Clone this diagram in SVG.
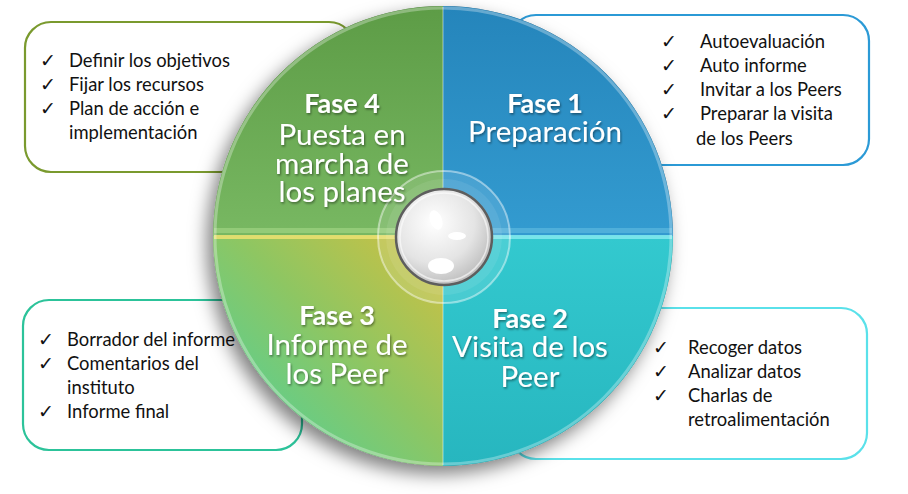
<svg xmlns="http://www.w3.org/2000/svg" width="908" height="494" viewBox="0 0 908 494">
<style>
.item{font-family:Lato,"Open Sans","Liberation Sans",sans-serif;font-size:18.4px;fill:#111}
.chk{font-family:"DejaVu Sans",sans-serif;font-size:19px;fill:#111}
.ph{font-family:Lato,"Open Sans","Liberation Sans",sans-serif;fill:#fff;text-anchor:middle;filter:url(#ts)}
.b{font-weight:bold;font-size:27px}
.l{font-size:29.5px}
.box{fill:#fff;stroke-width:2.2}
</style>
<defs>
<filter id="sh" x="-20%" y="-20%" width="140%" height="140%"><feDropShadow dx="-6" dy="8" stdDeviation="9" flood-color="#000" flood-opacity="0.5"/></filter>
<filter id="ts" x="-10%" y="-20%" width="120%" height="140%"><feDropShadow dx="1" dy="1.5" stdDeviation="1" flood-color="#000" flood-opacity="0.45"/></filter>
<linearGradient id="g4" x1="0" y1="0" x2="0" y2="1"><stop offset="0" stop-color="#5d9c46"/><stop offset="1" stop-color="#78b862"/></linearGradient>
<linearGradient id="g1" x1="0" y1="0" x2="0" y2="1"><stop offset="0" stop-color="#2585bb"/><stop offset="1" stop-color="#339bd0"/></linearGradient>
<linearGradient id="g2" x1="0" y1="0" x2="0" y2="1"><stop offset="0" stop-color="#33c9cf"/><stop offset="1" stop-color="#27b6bf"/></linearGradient>
<linearGradient id="g3" x1="1" y1="0" x2="0" y2="1"><stop offset="0" stop-color="#d2c040"/><stop offset="0.45" stop-color="#8ec662"/><stop offset="1" stop-color="#44d3a6"/></linearGradient>
<radialGradient id="kn" cx="0.4" cy="0.35" r="0.7"><stop offset="0" stop-color="#ffffff"/><stop offset="0.6" stop-color="#e4e4e4"/><stop offset="1" stop-color="#b8b8b8"/></radialGradient>
</defs>

<g id="box-fase4"><rect class="box" x="25" y="22" width="330" height="150" rx="26" stroke="#7a9a2e"/>
<text class="chk" x="40" y="67">✓</text><text class="item" x="69" y="67">Definir los objetivos</text>
<text class="chk" x="40" y="91">✓</text><text class="item" x="69" y="91">Fijar los recursos</text>
<text class="chk" x="40" y="115">✓</text><text class="item" x="69" y="115">Plan de acción e</text>
<text class="item" x="69" y="139">implementación</text></g>

<g id="box-fase1"><rect class="box" x="510" y="15" width="359" height="150" rx="26" stroke="#2b9ad6"/>
<text class="chk" x="661" y="48">✓</text><text class="item" x="700" y="48">Autoevaluación</text>
<text class="chk" x="661" y="72">✓</text><text class="item" x="700" y="72">Auto informe</text>
<text class="chk" x="661" y="96">✓</text><text class="item" x="700" y="96">Invitar a los Peers</text>
<text class="chk" x="661" y="120">✓</text><text class="item" x="700" y="120">Preparar la visita</text>
<text class="item" x="696" y="145">de los Peers</text></g>

<g id="box-fase3"><rect class="box" x="23" y="300" width="279" height="150" rx="26" stroke="#2cc39a"/>
<text class="chk" x="38" y="346">✓</text><text class="item" x="67" y="346">Borrador del informe</text>
<text class="chk" x="38" y="370">✓</text><text class="item" x="67" y="370">Comentarios del</text>
<text class="item" x="67" y="394">instituto</text>
<text class="chk" x="38" y="418">✓</text><text class="item" x="67" y="418">Informe final</text></g>

<g id="box-fase2"><rect class="box" x="510" y="308" width="357" height="151" rx="26" stroke="#5ae1ea"/>
<text class="chk" x="653" y="354">✓</text><text class="item" x="688" y="354">Recoger datos</text>
<text class="chk" x="653" y="378">✓</text><text class="item" x="688" y="378">Analizar datos</text>
<text class="chk" x="653" y="402">✓</text><text class="item" x="688" y="402">Charlas de</text>
<text class="item" x="688" y="426">retroalimentación</text></g>

<g id="wheel">
<circle cx="443" cy="236" r="230" fill="#888" filter="url(#sh)"/>
<path d="M443 236 L443 6 A230 230 0 0 0 213 236 Z" fill="url(#g4)"/>
<path d="M443 236 L673 236 A230 230 0 0 0 443 6 Z" fill="url(#g1)"/>
<path d="M443 236 L443 466 A230 230 0 0 0 673 236 Z" fill="url(#g2)"/>
<path d="M443 236 L213 236 A230 230 0 0 0 443 466 Z" fill="url(#g3)"/>
<rect x="214" y="228" width="229" height="5" fill="#9ad07e" opacity="0.8"/>
<rect x="443" y="228" width="229" height="5" fill="#56b4dc" opacity="0.8"/>
<rect x="214" y="235" width="229" height="4" fill="#e8e070" opacity="0.9"/>
<rect x="443" y="235" width="229" height="4" fill="#7ee8ec" opacity="0.9"/>
<line x1="443" y1="7" x2="443" y2="465" stroke="#ffffff" stroke-opacity="0.25" stroke-width="2"/>
<circle cx="443" cy="236" r="228" fill="none" stroke="#ffffff" stroke-opacity="0.3" stroke-width="3"/>
</g>

<g id="hub">
<circle cx="444" cy="237" r="66" fill="#ffffff" fill-opacity="0.12" stroke="#ffffff" stroke-opacity="0.45" stroke-width="2"/>
<circle cx="444" cy="237" r="58" fill="#ffffff" fill-opacity="0.08"/>
<circle cx="444" cy="237" r="48" fill="url(#kn)" stroke="#5e5e5e" stroke-width="2.5"/>
<circle cx="444" cy="237" r="44" fill="none" stroke="#ffffff" stroke-opacity="0.6" stroke-width="1.5"/>
<ellipse cx="436" cy="220" rx="6" ry="10" fill="#fff" transform="rotate(-20 436 220)"/>
<ellipse cx="457" cy="236" rx="9" ry="4" fill="#fff"/>
<ellipse cx="441" cy="266" rx="13" ry="8" fill="#fff"/>
</g>

<g id="labels">
<text class="ph" x="342" y="113"><tspan class="b">Fase 4</tspan></text>
<text class="ph l" x="342" y="145">Puesta en</text>
<text class="ph l" x="342" y="174">marcha de</text>
<text class="ph l" x="342" y="202">los planes</text>
<text class="ph" x="545" y="113"><tspan class="b">Fase 1</tspan></text>
<text class="ph l" x="545" y="142">Preparación</text>
<text class="ph" x="337" y="325"><tspan class="b">Fase 3</tspan></text>
<text class="ph l" x="337" y="355">Informe de</text>
<text class="ph l" x="337" y="384">los Peer</text>
<text class="ph" x="530" y="328"><tspan class="b">Fase 2</tspan></text>
<text class="ph l" x="530" y="357">Visita de los</text>
<text class="ph l" x="530" y="387">Peer</text>
</g>
</svg>
